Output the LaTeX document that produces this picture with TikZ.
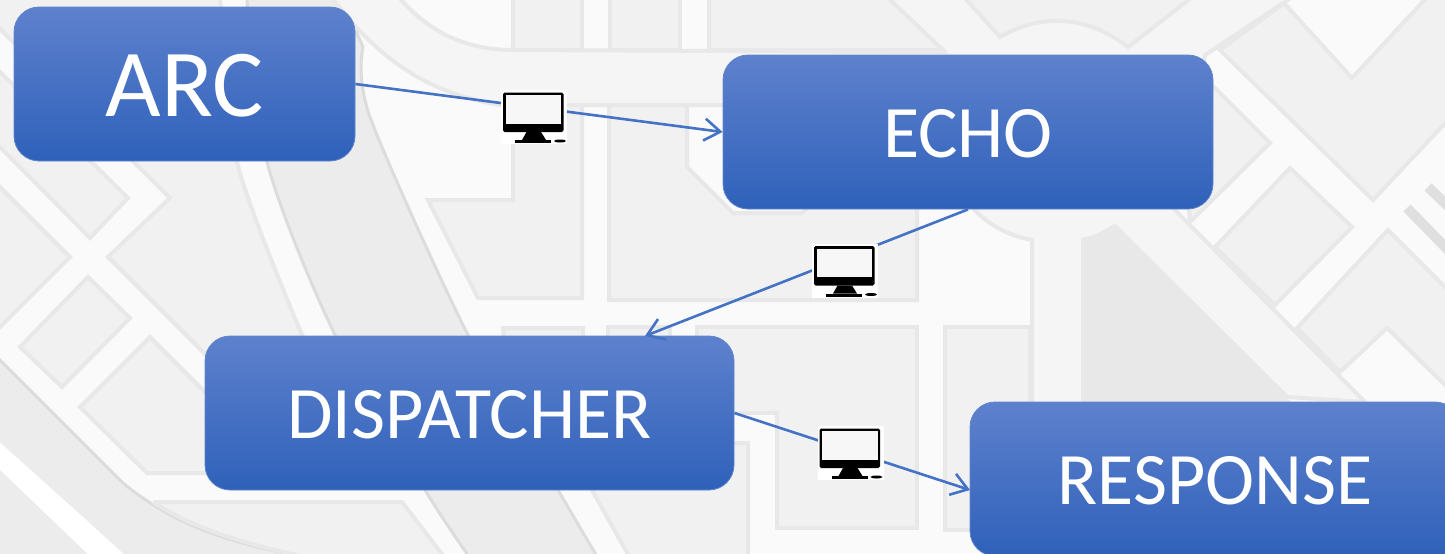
\documentclass[tikz,border=0pt]{standalone}
\usepackage{fontspec}
\setmainfont{Carlito}
\usetikzlibrary{arrows.meta}

\definecolor{roadc}{HTML}{FAFAFA}
\definecolor{wayc}{HTML}{F5F5F5}
\definecolor{blockc}{HTML}{F1F1F1}
\definecolor{parkc}{HTML}{ECECEC}
\definecolor{edgec}{HTML}{E8E8E8}
\definecolor{linec}{HTML}{4472C4}
\definecolor{blue1}{HTML}{5E81CD}
\definecolor{blue2}{HTML}{4370C8}
\definecolor{blue3}{HTML}{2F61BA}

\tikzset{
	block/.style={fill=blockc,draw=edgec,line width=2pt,line join=miter},
	park/.style={fill=parkc,draw=edgec!95!black,line width=1.5pt},
	stagebox/.style={rounded corners=12.5pt,draw=linec!85!white,line width=0.4pt,inner sep=0pt,
		top color=blue1,middle color=blue2,bottom color=blue3,text=white,
		minimum height=77pt,text height=26pt,font=\fontsize{37}{44}\selectfont},
	link/.style={->,>={Straight Barb[length=8pt,width=11pt]},draw=linec,line width=1.3pt},
	monitor/.pic={
		\node[fill=white,minimum width=33pt,minimum height=27pt,inner sep=0pt] (-box) {};
		\fill[black,rounded corners=0.8pt] (-31,-24.5) rectangle (29.5,15);
		\fill[black!3] (-28.5,-22) rectangle (27,6.5);
		\fill[black] (-7.5,15) -- (7,15) -- (12,23) -- (-12,23) -- cycle;
		\fill[black] (-19,23) rectangle (17,26);
		\fill[black] (26,24) ellipse (6 and 1.5);
	}
}

\begin{document}
\begin{tikzpicture}[x=0.5pt,y=-0.5pt]
	
	\clip (0,0) rectangle (1445,553);
	\fill[roadc] (0,0) rectangle (1445,553);
	
	% Draw the map, wide ways first
	\path[park] (247,-5) -- plot[smooth] coordinates {(247,0) (267,162) (335,335) (425,490) (470,558)} -- (597,558) -- plot[smooth] coordinates {(595,553) (558,490) (467,333) (370,117) (363,47)} -- (340,-5) -- cycle;
	\path[fill=wayc,draw=edgec,line width=2pt] (330,-5) -- (397,-5) .. controls (430,35) and (470,50) .. (513,50) -- (943,52) -- (885,-5) -- (1295,-5) -- (1205,55) -- (1173,208) -- (1365,402) -- (1287,397) -- (1115,226) .. controls (1105,232) and (1095,237) .. (1083,240) -- (1083,558) -- (1032,558) -- (1032,240) .. controls (1005,235) and (985,222) .. (973,208) -- (723,105) -- (500,105) .. controls (440,95) and (385,70) .. (330,-5);
	\fill[edgec] (1083,242) .. controls (1095,238) and (1105,232) .. (1115,226) -- (1300,411) -- (1083,411) -- cycle;
	
	% Draw the map, left blocks
	\path[block] (-5,142) -- (90,238) -- (128,198) -- (-5,67) -- cycle;
	\path[block] (-5,24) -- (170,198) -- (108,257) -- (250,399) -- (350,399) -- plot[smooth] coordinates {(302,335) (237,162) (220,-5)} -- (-5,-5) -- cycle;
	\path[block] (-5,182) -- (70,257) -- (-5,332) -- cycle;
	\path[block] (20,347) -- (62,387) -- (130,318) -- (88,277) -- cycle;
	\path[block] (150,337) -- (80,407) -- (147,473) -- (260,473) -- (260,447) -- cycle;
	\path[park] (-5,355) -- (123,483) .. controls (180,530) and (240,545) .. (310,558) -- (-5,558) -- cycle;
	\path[block] (153,502) -- (402,502) -- (445,558) -- (310,558) .. controls (250,545) and (195,530) .. (153,502);
	\fill[white] (-5,438) -- (83,517) -- (128,558) -- (92,558) -- (-5,465) -- cycle;
	
	% Draw the map, middle blocks
	\path[block] (513,-5) -- (513,50) -- (582,50) -- (582,-5) -- cycle;
	\path[block] (610,-5) -- (610,50) -- (680,50) -- (680,-5) -- cycle;
	\path[block] (709,-5) -- (709,50) -- (943,50) -- (885,-5) -- cycle;
	\path[block] (962,-5) -- (1000,37) .. controls (1040,14) and (1085,14) .. (1128,47) -- (1195,-5) -- cycle;
	\path[block] (428,200) -- (513,200) -- (513,105) -- (582,105) -- (582,298) -- (478,298) -- cycle;
	\path[block] (609,105) -- (687,105) -- (687,167) -- (733,213) -- (802,213) -- (815,200) -- (917,200) -- (917,300) -- (609,300) -- cycle;
	\path[block] (503,328) -- (583,328) -- (583,400) -- (510,400) -- cycle;
	\path[block] (608,327) -- (670,327) -- (670,400) -- (608,400) -- cycle;
	\path[block] (697,327) -- (917,327) -- (917,528) -- (777,528) -- (777,413) -- (697,413) -- cycle;
	\path[block] (592,490) -- (630,558) -- (748,558) -- (748,443) -- (600,443) -- cycle;
	\path[block] (945,327) -- (1030,327) -- (1030,530) -- (945,530) -- cycle;
	
	% Draw the map, right blocks
	\path[block] (1190,222) -- (1270,143) -- (1205,78) -- (1180,78) -- cycle;
	\path[block] (1215,247) -- (1290,168) -- (1352,227) -- (1275,305) -- cycle;
	\path[block] (1297,328) -- (1388,230) -- (1450,292) -- (1450,390) -- (1387,328) -- (1340,372) -- cycle;
	\path[block] (1220,50) -- (1284,3) -- (1352,78) -- (1429,-5) -- (1450,-5) -- (1450,118) -- (1373,200) -- cycle;
	\draw[edgec!96!black,line width=5pt] (1407,208) -- (1450,252);
	\draw[edgec!96!black,line width=5pt] (1428,187) -- (1450,208);
	
	% Draw nodes
	\node[stagebox,minimum width=170.5pt,text height=33pt,font=\fontsize{48}{54}\selectfont] (arc) at (184.5,84) {ARC};
	\node[stagebox,minimum width=245pt] (echo) at (968,132) {ECHO};
	\node[stagebox,minimum width=264.5pt] (dispatcher) at (469.5,413) {DISPATCHER};
	\node[stagebox,minimum width=245pt] (response) at (1215,479) {RESPONSE};
	\coordinate (dispatchertop) at (645,336);
	\coordinate (responseside) at (970,490);
	
	% Draw arcs, each one passes under its computer
	\draw[link] (arc.east) to (echo.west);
	\draw[link] (echo.south) to (dispatchertop);
	\draw[link] (dispatcher.east) to (responseside);
	
	% Draw computers
	\pic (pcA) at (534,117) {monitor};
	\pic (pcB) at (845,270.5) {monitor};
	\pic (pcC) at (850.5,453) {monitor};
	
\end{tikzpicture}
\end{document}
